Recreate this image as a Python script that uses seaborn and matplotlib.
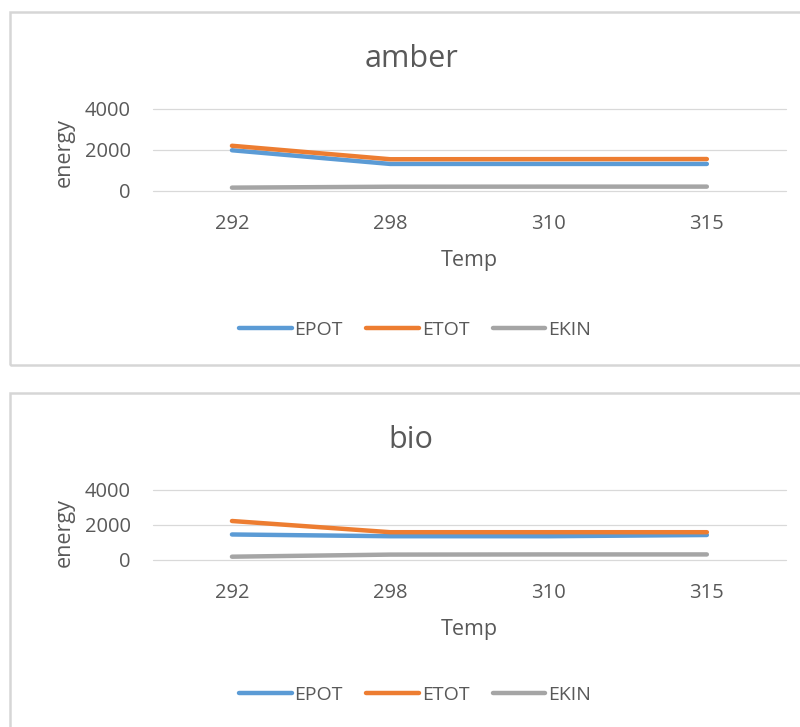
import matplotlib
matplotlib.use("Agg")
import matplotlib.pyplot as plt
import matplotlib.patches as mpatches
import seaborn as sns
import pandas as pd

# ---- data ----
temps = ["292", "298", "310", "315"]
series_names = ["EPOT", "ETOT", "EKIN"]
amber_epot = [1980, 1310, 1310, 1310]
amber_etot = [2200, 1540, 1545, 1550]
amber_ekin = [150, 195, 200, 200]
bio_epot = [1430, 1330, 1330, 1400]
bio_etot = [2200, 1560, 1560, 1560]
bio_ekin = [160, 280, 290, 290]
y_ticks = [0, 2000, 4000]
titles = ["amber", "bio"]

colors = {"EPOT": "#5B9BD5", "ETOT": "#ED7D31", "EKIN": "#A5A5A5"}
TXT = "#595959"

sns.set_theme(style="white")
plt.rcParams["font.family"] = ["Open Sans", "DejaVu Sans"]

W, H = 800, 727
fig = plt.figure(figsize=(W / 100, H / 100), dpi=100)
fig.patch.set_facecolor("white")


def fx(x):
    return x / W


def fy(y):
    return 1 - y / H


def make_df(epot, etot, ekin):
    rows = []
    for name, vals in zip(series_names, [epot, etot, ekin]):
        for t, v in zip(temps, vals):
            rows.append({"Temp": t, "energy": v, "series": name})
    return pd.DataFrame(rows)


# panel layout in pixels
panels = [
    dict(box_top=12, box_bot=365, ax_top=109, ax_bot=190.7, title_base=67,
         xlab_top=250, ylab_right=75, ylab_cy=153, leg_cy=330,
         data=(amber_epot, amber_etot, amber_ekin), title=titles[0]),
    dict(box_top=393, box_bot=740, ax_top=489.5, ax_bot=559.5, title_base=448,
         xlab_top=619, ylab_right=75, ylab_cy=533, leg_cy=695,
         data=(bio_epot, bio_etot, bio_ekin), title=titles[1]),
]

ax_left, ax_right = 152.8, 786.0

for p in panels:
    # chart frame
    rect = mpatches.Rectangle((fx(10), fy(p["box_bot"])), fx(W + 20) - fx(10),
                              fy(p["box_top"]) - fy(p["box_bot"]),
                              transform=fig.transFigure, fill=False,
                              edgecolor="#D6D6D6", linewidth=1.8)
    fig.patches.append(rect)

    ax = fig.add_axes([fx(ax_left), fy(p["ax_bot"]), fx(ax_right - ax_left),
                       (p["ax_bot"] - p["ax_top"]) / H])
    df = make_df(*p["data"])
    sns.lineplot(data=df, x="Temp", y="energy", hue="series",
                 hue_order=series_names, palette=colors, linewidth=3.2,
                 ax=ax, sort=False, legend=True)
    for ln in ax.get_lines():
        ln.set_solid_capstyle("round")
        ln.set_solid_joinstyle("round")

    ax.set_xlim(-0.5, 3.5)
    ax.set_ylim(0, 4000)
    ax.set_yticks(y_ticks)
    ax.set_yticklabels([str(v) for v in y_ticks])
    ax.grid(axis="y", color="#D9D9D9", linewidth=0.9)
    ax.grid(axis="x", visible=False)
    for gl in ax.get_ygridlines():
        gl.set_clip_on(False)
    for s in ax.spines.values():
        s.set_visible(False)
    ax.set_facecolor("none")
    ax.tick_params(axis="y", length=0, pad=16, labelsize=14.5, labelcolor=TXT)
    ax.tick_params(axis="x", length=0, pad=17, labelsize=14.5, labelcolor=TXT)

    ax.set_xlabel("Temp", fontsize=15.5, color=TXT, va="top")
    ax.xaxis.set_label_coords(fx((ax_left + ax_right) / 2), fy(p["xlab_top"]),
                              transform=fig.transFigure)
    ax.set_ylabel("energy", fontsize=15.5, color=TXT)
    ax.yaxis.set_label_coords(fx(p["ylab_right"]), fy(p["ylab_cy"]),
                              transform=fig.transFigure)

    fig.text(fx(411), fy(p["title_base"]), p["title"], ha="center",
             va="baseline", fontsize=22, color=TXT)

    handles, labels = ax.get_legend_handles_labels()
    ax.get_legend().remove()
    leg = fig.legend(handles, labels, loc="center",
                     bbox_to_anchor=(fx(415), fy(p["leg_cy"])),
                     ncol=3, frameon=False, fontsize=14, handlelength=2.7,
                     handletextpad=0.15, columnspacing=1.2, labelcolor=TXT)
    for h in leg.legend_handles:
        h.set_linewidth(3.2)

fig.savefig("out.png", dpi=100, facecolor="white")
